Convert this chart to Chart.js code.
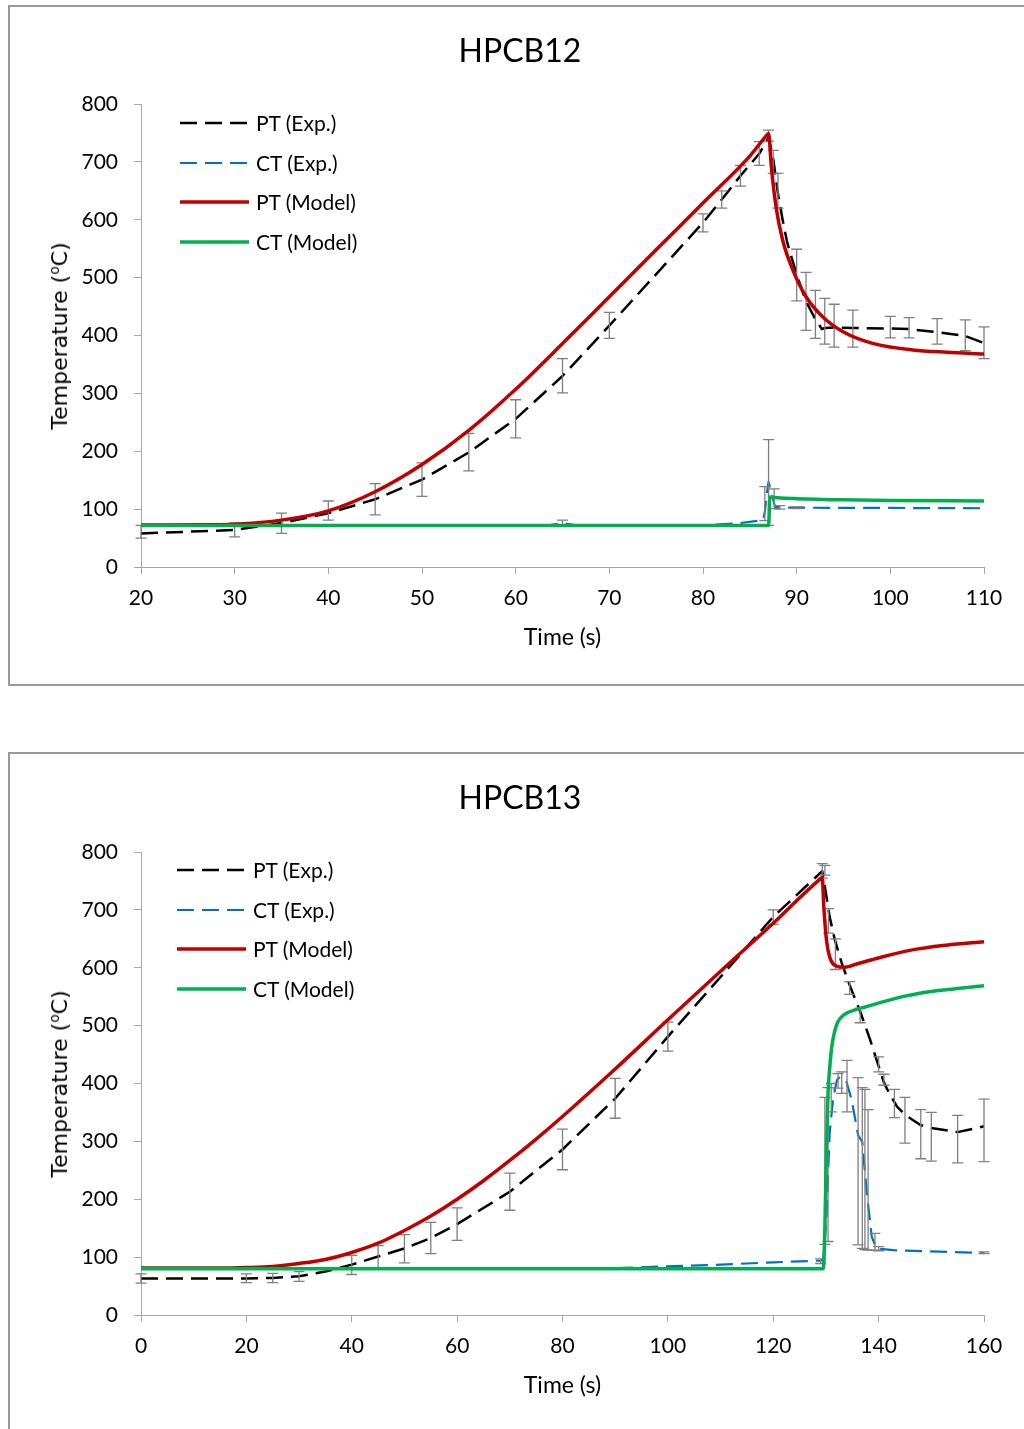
<!DOCTYPE html>
<html>
<head>
<meta charset="utf-8">
<script src="https://cdn.jsdelivr.net/npm/chart.js@4.4.1/dist/chart.umd.min.js"></script>
<style>
  html, body { margin: 0; padding: 0; background: #fff; }
  body { width: 1024px; height: 1429px; position: relative; overflow: hidden; }
  .box { position: absolute; left: 8px; width: 1030px; border: 2px solid #999; box-sizing: border-box; }
  canvas { position: absolute; left: 0; }
  .title { position: absolute; left: 0; width: 1040px; text-align: center; font: 32px 'Lato'; line-height: 36px; color: #000; }
  .ytitle { position: absolute; left: 60px; white-space: nowrap; font: 22px 'DejaVu Sans'; line-height: 22px; color: #000;
            transform: translate(-50%, -50%) rotate(-90deg); }
  .ytitle sup { font-size: 0.62em; line-height: 0; }
  .legend { position: absolute; font: 21px 'Lato'; color: #000; }
  .legend .row { position: absolute; left: 0; height: 24px; white-space: nowrap; }
  .legend svg { position: absolute; left: 0; top: 7px; }
  .legend span { position: absolute; left: 76px; top: 0; line-height: 24px; }
</style>
</head>
<body>
<div class="box" style="top:5px;height:681px"></div>
<div class="box" style="top:752px;height:700px"></div>

<canvas id="chart12" width="1024" height="700" style="top:0"></canvas>
<canvas id="chart13" width="1024" height="700" style="top:748px"></canvas>

<div class="title" style="top:32px">HPCB12</div>
<div class="title" style="top:779px">HPCB13</div>

<div class="ytitle" style="top:336px">Temperature (<sup>o</sup>C)</div>
<div class="ytitle" style="top:1084px">Temperature (<sup>o</sup>C)</div>

<div class="legend" id="legend12" style="left:180px;top:111px"></div>
<div class="legend" id="legend13" style="left:177px;top:858px"></div>

<script>
// ---- HPCB12 data (time in s, temperature in oC) ----
const ptExp12T = [20, 30, 35, 40, 45, 50, 55, 60, 65, 70, 80, 82, 84, 86, 87, 87.5, 88, 88.5, 89, 90, 91, 92, 92.7, 93, 94, 96, 100, 102, 105, 108, 110];
const ptExp12V = [58, 64, 76, 93, 117, 151, 198, 256, 330, 417, 595, 635, 676, 714, 742, 705, 645, 600, 560, 505, 459, 428, 411, 413, 414, 413, 412, 411, 406, 399, 387];
const ptErr12T = [20, 30, 35, 40, 45, 50, 55, 60, 65, 70, 80, 82, 84, 86, 87, 87.5, 88, 90, 91, 92, 93, 94, 96, 100, 102, 105, 108, 110];
const ptErr12Lo = [50, 52, 58, 81, 90, 122, 166, 223, 301, 395, 579, 620, 658, 694, 736, 680, 620, 460, 409, 395, 385, 380, 380, 396, 396, 385, 374, 360];
const ptErr12Hi = [72, 76, 93, 114, 144, 180, 231, 289, 360, 440, 610, 650, 694, 735, 755, 720, 680, 549, 509, 478, 464, 454, 444, 433, 431, 429, 427, 415];

const ctExp12T = [20, 63.5, 65, 66.5, 80, 84, 86.4, 86.6, 86.8, 87, 87.3, 87.7, 88.2, 90, 100, 110];
const ctExp12V = [72, 72, 76, 72, 72, 76, 81, 95, 125, 147, 128, 104, 103, 102.5, 102, 101.5];
const ctErr12T = [65, 86.6, 87, 87.6, 88.2, 90];
const ctErr12Lo = [73, 80, 72, 101, 100, 101];
const ctErr12Hi = [81, 139, 220, 135, 106, 104];

const ptMod12T = [20, 27, 30, 35, 40, 45, 50, 55, 60, 65, 70, 75, 80, 85, 86.7, 87, 87.3, 87.8, 88.5, 89.6, 91, 92.8, 95, 98.2, 102.4, 106, 110];
const ptMod12V = [72.5, 73, 74, 81, 97, 130, 177, 236, 307, 386, 467, 548, 629, 710, 744, 749, 691, 622, 565, 513, 467, 432, 406, 386, 375, 371, 368];

const ctMod12T = [20, 87, 87.15, 88, 90, 95, 100, 110];
const ctMod12V = [71.5, 71.5, 121, 119.5, 118, 116, 115, 114];

// ---- HPCB13 data ----
const ptExp13T = [0, 20, 25, 30, 35, 40, 45, 50, 55, 60, 70, 80, 90, 100, 110, 120, 129.3, 129.8, 130.7, 131.7, 133, 134.5, 136.4, 138.3, 140, 141, 142, 143.5, 145, 148, 150, 155, 160];
const ptExp13V = [63, 63, 64, 67, 75, 87, 101, 115, 133, 157, 213, 286, 374, 481, 584, 688, 767, 740, 688, 648, 608, 570, 527, 478, 430, 402, 383, 360, 346, 328, 323, 316, 326];
const ptErr13T = [0, 20, 25, 30, 40, 45, 50, 55, 60, 70, 80, 90, 100, 120, 129.3, 129.8, 130.5, 131.8, 134.5, 136.5, 140, 141, 143, 145, 148, 150, 155, 160];
const ptErr13Lo = [55, 56, 56, 58, 70, 82, 90, 106, 129, 181, 251, 340, 456, 675, 755, 760, 660, 597, 554, 505, 420, 397, 341, 297, 270, 266, 263, 265];
const ptErr13Hi = [71, 71, 72, 75, 103, 120, 139, 160, 185, 245, 321, 409, 506, 700, 780, 777, 702, 650, 576, 530, 446, 416, 390, 376, 355, 350, 345, 373];

const ctExp13T = [0, 90, 100, 110, 120, 129, 129.5, 130.1, 130.7, 131.4, 132.1, 132.7, 133.9, 134.9, 136.1, 136.9, 137.7, 138.7, 139.6, 142.8, 149.7, 160];
const ctExp13V = [80, 81, 84, 87, 91, 94, 96, 170, 314, 377, 406, 412, 403, 371, 311, 299, 216, 135, 115, 112, 110, 107];
const ctErr13T = [129, 129.8, 130.4, 131, 132.3, 133, 134, 136.1, 136.9, 137.4, 138, 139.3, 140, 160];
const ctErr13Lo = [89, 122, 127, 351, 392, 383, 351, 121, 115, 113, 112, 112, 111, 106];
const ctErr13Hi = [97, 376, 393, 400, 417, 420, 440, 410, 393, 390, 355, 141, 118, 109];

const ptMod13T = [0, 15, 20, 25, 30, 35, 40, 45, 50, 55, 60, 65, 70, 75, 80, 90, 100, 110, 120, 129, 129.3, 129.6, 130.1, 130.7, 132, 133.6, 136, 139.6, 145.9, 152.9, 160];
const ptMod13V = [81, 81, 82, 84, 89, 96, 108, 124, 146, 171, 200, 232, 267, 304, 343, 425, 510, 594, 677, 754, 756, 705, 648, 619, 603, 601, 607, 616, 630, 639, 645];

const ctMod13T = [0, 129.5, 129.8, 130.1, 130.4, 130.7, 131.1, 131.6, 132.3, 133.3, 134.5, 137, 139.6, 145, 150, 155, 160];
const ctMod13V = [80, 80, 150, 290, 385, 425, 463, 488, 507, 518, 524, 531, 538, 551, 559, 564, 569];

// Axis ticks
const tempTicks = { min: 0, max: 800, step: 100 };
const time12Ticks = { min: 20, max: 110, step: 10 };
const time13Ticks = { min: 0, max: 160, step: 20 };

// Colours / styles
const BLACK = '#000000', BLUE = '#0070c0', RED = '#c00000', GREEN = '#00b050';
const AXIS = '#a6a6a6', ERR = '#7f7f7f';

Chart.defaults.font.family = 'Lato';
Chart.defaults.color = '#000';

const pts = (xs, ys) => xs.map((x, i) => ({ x, y: ys[i] }));

// Draws vertical error bars with caps for any dataset that carries errT/errLo/errHi
const errorBarPlugin = {
    id: 'errorBars',
    afterDatasetDraw(chart, args) {
        const ds = chart.data.datasets[args.index];
        if (!ds.errT) return;
        const { ctx, scales: { x, y } } = chart;
        ctx.save();
        ctx.strokeStyle = ERR;
        ctx.lineWidth = 1.3;
        ds.errT.forEach((t, i) => {
            const px = x.getPixelForValue(t);
            const top = y.getPixelForValue(ds.errHi[i]);
            const bot = y.getPixelForValue(ds.errLo[i]);
            ctx.beginPath();
            ctx.moveTo(px, top); ctx.lineTo(px, bot);
            ctx.moveTo(px - 5.5, top); ctx.lineTo(px + 5.5, top);
            ctx.moveTo(px - 5.5, bot); ctx.lineTo(px + 5.5, bot);
            ctx.stroke();
        });
        ctx.restore();
    }
};

const legendItems = [
    { label: 'PT (Exp.)', color: BLACK, width: 2.5, dash: '17 8' },
    { label: 'CT (Exp.)', color: BLUE, width: 2.2, dash: '17 8' },
    { label: 'PT (Model)', color: RED, width: 3.5, dash: '' },
    { label: 'CT (Model)', color: GREEN, width: 3.5, dash: '' }
];

function buildLegend(id) {
    const el = document.getElementById(id);
    el.innerHTML = legendItems.map((it, i) => `
        <div class="row" style="top:${i * 39.5}px">
            <svg width="70" height="10"><line x1="0" y1="5" x2="69" y2="5" stroke="${it.color}"
                 stroke-width="${it.width}" stroke-dasharray="${it.dash}"/></svg>
            <span>${it.label}</span>
        </div>`).join('');
}

function makeChart(id, s, xt) {
    const ctx = document.getElementById(id).getContext('2d');
    return new Chart(ctx, {
        type: 'line',
        data: {
            datasets: [
                { label: 'CT (Model)', data: pts(s.ctModT, s.ctModV), borderColor: GREEN, borderWidth: 3.5,
                  cubicInterpolationMode: 'monotone', order: 0 },
                { label: 'PT (Model)', data: pts(s.ptModT, s.ptModV), borderColor: RED, borderWidth: 3.5,
                  cubicInterpolationMode: 'monotone', order: 1 },
                { label: 'CT (Exp.)', data: pts(s.ctExpT, s.ctExpV), borderColor: BLUE, borderWidth: 2.2,
                  borderDash: [17, 8], tension: 0, order: 2,
                  errT: s.ctErrT, errLo: s.ctErrLo, errHi: s.ctErrHi },
                { label: 'PT (Exp.)', data: pts(s.ptExpT, s.ptExpV), borderColor: BLACK, borderWidth: 2.5,
                  borderDash: [17, 8], tension: 0, order: 3,
                  errT: s.ptErrT, errLo: s.ptErrLo, errHi: s.ptErrHi }
            ]
        },
        options: {
            responsive: false,
            animation: false,
            layout: { padding: { left: 0, top: 104, right: 40, bottom: 0 } },
            elements: { point: { radius: 0 }, line: { fill: false, borderJoinStyle: 'round' } },
            plugins: { legend: { display: false }, tooltip: { enabled: false } },
            scales: {
                x: {
                    type: 'linear', min: xt.min, max: xt.max,
                    ticks: { stepSize: xt.step, padding: 12, maxRotation: 0, font: { size: 21 }, color: '#000' },
                    grid: { drawOnChartArea: false, tickLength: 7, color: AXIS },
                    border: { color: AXIS },
                    title: { display: true, text: 'Time (s)', font: { size: 23 }, color: '#000', padding: { top: 0, bottom: 49 } },
                    afterFit: sc => { sc.height = 133; }
                },
                y: {
                    min: tempTicks.min, max: tempTicks.max,
                    ticks: { stepSize: tempTicks.step, padding: 16, font: { size: 21 }, color: '#000' },
                    grid: { drawOnChartArea: false, tickLength: 7, color: AXIS },
                    border: { color: AXIS },
                    afterFit: sc => { sc.width = 141; }
                }
            }
        },
        plugins: [errorBarPlugin]
    });
}

makeChart('chart12', {
    ptExpT: ptExp12T, ptExpV: ptExp12V, ptErrT: ptErr12T, ptErrLo: ptErr12Lo, ptErrHi: ptErr12Hi,
    ctExpT: ctExp12T, ctExpV: ctExp12V, ctErrT: ctErr12T, ctErrLo: ctErr12Lo, ctErrHi: ctErr12Hi,
    ptModT: ptMod12T, ptModV: ptMod12V, ctModT: ctMod12T, ctModV: ctMod12V
}, time12Ticks);

makeChart('chart13', {
    ptExpT: ptExp13T, ptExpV: ptExp13V, ptErrT: ptErr13T, ptErrLo: ptErr13Lo, ptErrHi: ptErr13Hi,
    ctExpT: ctExp13T, ctExpV: ctExp13V, ctErrT: ctErr13T, ctErrLo: ctErr13Lo, ctErrHi: ctErr13Hi,
    ptModT: ptMod13T, ptModV: ptMod13V, ctModT: ctMod13T, ctModV: ctMod13V
}, time13Ticks);

buildLegend('legend12');
buildLegend('legend13');
</script>
</body>
</html>
